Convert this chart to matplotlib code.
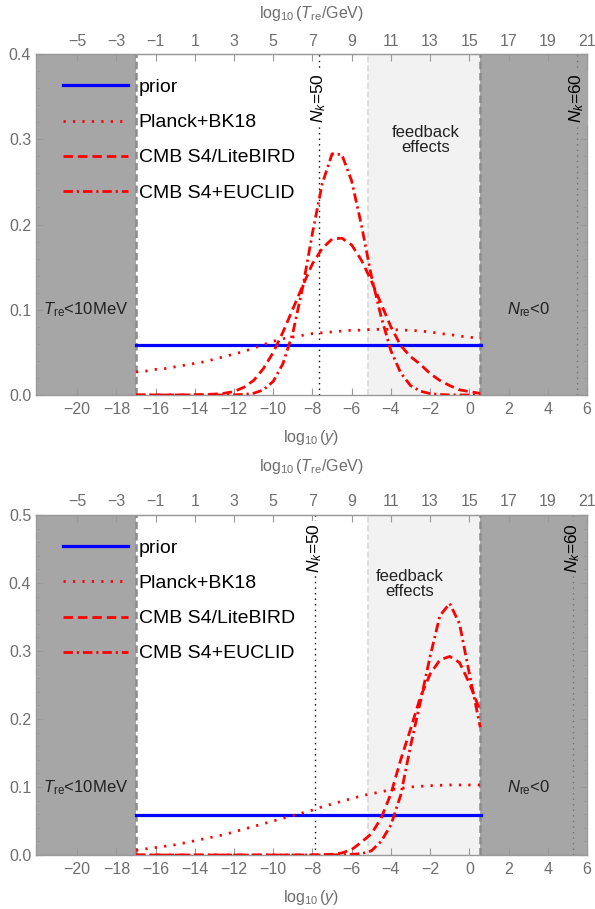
import numpy as np
import matplotlib
matplotlib.use("Agg")
from matplotlib import pyplot as plt
from matplotlib.ticker import MultipleLocator, FormatStrFormatter

plt.rcParams['font.family'] = ['Liberation Sans', 'DejaVu Sans']
plt.rcParams['mathtext.fontset'] = 'custom'
plt.rcParams['mathtext.rm'] = 'Liberation Sans'
plt.rcParams['mathtext.it'] = 'Liberation Sans:italic'

logy = np.append(np.arange(-17, 0.5001, 0.5), 0.56)

prior_val = 0.0588
prior_edges = [-17, 0.6]

# upper panel
planck_top = [0.027, 0.028, 0.030, 0.031, 0.033, 0.035, 0.037, 0.039, 0.042, 0.045,
              0.048, 0.051, 0.055, 0.059, 0.063, 0.066, 0.068, 0.070, 0.072, 0.073,
              0.074, 0.075, 0.076, 0.076, 0.077, 0.077, 0.077, 0.076, 0.076, 0.075,
              0.074, 0.072, 0.071, 0.069, 0.068, 0.066, 0.066]
s4lb_top = [0, 0, 0, 0, 0, 0, 0.0002, 0.0005, 0.001, 0.002,
            0.004, 0.009, 0.017, 0.031, 0.050, 0.074, 0.101, 0.128, 0.154, 0.172,
            0.183, 0.184, 0.176, 0.158, 0.134, 0.107, 0.080, 0.058, 0.045, 0.036,
            0.025, 0.017, 0.011, 0.006, 0.004, 0.002, 0.002]
euclid_top = [0, 0, 0, 0, 0, 0, 0, 0, 0, 0,
              0.0002, 0.0006, 0.002, 0.006, 0.016, 0.037, 0.073, 0.126, 0.190, 0.248,
              0.283, 0.282, 0.251, 0.199, 0.140, 0.092, 0.052, 0.026, 0.011, 0.0045,
              0.0016, 0.0005, 0.0001, 0, 0, 0, 0]

# lower panel
planck_bot = [0.007, 0.009, 0.011, 0.013, 0.015, 0.018, 0.021, 0.024, 0.027, 0.030,
              0.034, 0.038, 0.042, 0.046, 0.050, 0.054, 0.058, 0.062, 0.066, 0.071,
              0.075, 0.079, 0.083, 0.087, 0.090, 0.093, 0.096, 0.098, 0.100, 0.101,
              0.102, 0.1025, 0.103, 0.103, 0.103, 0.103, 0.103]
s4lb_bot = [0, 0, 0, 0, 0, 0, 0, 0, 0, 0,
            0, 0, 0, 0, 0, 0, 0, 0, 0.0002, 0.0005,
            0.001, 0.003, 0.008, 0.019, 0.031, 0.054, 0.090, 0.140, 0.185, 0.232,
            0.266, 0.287, 0.292, 0.283, 0.253, 0.216, 0.212]
euclid_bot = [0, 0, 0, 0, 0, 0, 0, 0, 0, 0,
              0, 0, 0, 0, 0, 0, 0, 0, 0, 0,
              0.0002, 0.0005, 0.001, 0.002, 0.006, 0.020, 0.044, 0.088, 0.160, 0.225,
              0.292, 0.352, 0.370, 0.340, 0.267, 0.196, 0.188]

labels = ['prior', 'Planck+BK18', 'CMB S4/LiteBIRD', 'CMB S4+EUCLID']

x_min, x_max = -22.1, 6
bbn_edge = -17        # T_re < 10 MeV
nre_edge = 0.56       # N_re < 0
feedback_edge = -5.15
nk50 = [-7.66, -7.88]
nk60 = [5.49, 5.27]
ymax = [0.4, 0.5]

DARK = '#a6a6a6'
LIGHT = '#f2f2f2'
TICKC = '#6e6e6e'
FRAMEC = '#999999'

fig = plt.figure(figsize=(5.95, 9.09), dpi=100)
ax_top = fig.add_axes([0.0605, 0.5655, 0.926, 0.375])
ax_bot = fig.add_axes([0.0605, 0.0594, 0.926, 0.374])

panels = [(ax_top, planck_top, s4lb_top, euclid_top),
          (ax_bot, planck_bot, s4lb_bot, euclid_bot)]
title_pad = [11, 17]

for i, (ax, planck, s4lb, euclid) in enumerate(panels):
    ax.axvspan(x_min, bbn_edge, color=DARK, lw=0, zorder=0)
    ax.axvspan(nre_edge, x_max, color=DARK, lw=0, zorder=0)
    ax.axvspan(feedback_edge, nre_edge, color=LIGHT, lw=0, zorder=0)
    ax.axvline(bbn_edge, color='#8c8c8c', lw=1.8, ls=(0, (3, 1.5)), zorder=1)
    ax.axvline(nre_edge, color='#8c8c8c', lw=1.8, ls=(0, (3, 1.5)), zorder=1)
    ax.axvline(feedback_edge, color='#dddddd', lw=1.4, ls=(0, (3, 1.5)), zorder=1)

    ax.axvline(nk50[i], color='black', lw=1.0, ls=(0, (1, 3)), zorder=2)
    ax.axvline(nk60[i], color='#707070', lw=1.0, ls=(0, (1, 3)), zorder=2)

    # zero level of the densities outside the allowed window
    ax.plot([x_min, bbn_edge], [0, 0], color='#7a5aa8', lw=0.8, zorder=3)
    ax.plot([nre_edge, x_max], [0, 0], color='#7a5aa8', lw=0.8, zorder=3)

    ax.plot(prior_edges, [prior_val, prior_val], color='#0000ff', lw=2.3,
            label=labels[0], zorder=4)
    ax.plot(logy, planck, color='#ff0000', lw=2.0, ls=(0, (0.8, 2.6)),
            label=labels[1], zorder=4)
    ax.plot(logy, s4lb, color='#ff0000', lw=2.0, ls=(0, (3.4, 1.8)),
            label=labels[2], zorder=4)
    ax.plot(logy, euclid, color='#ff0000', lw=2.0, ls=(0, (3.4, 1.4, 0.8, 1.4)),
            label=labels[3], zorder=4)

    ax.set_xlim(x_min, x_max)
    ax.set_ylim(0, ymax[i])
    ax.set_xticks(np.arange(-20, 7, 2))
    ax.yaxis.set_major_locator(MultipleLocator(0.1))
    ax.yaxis.set_minor_locator(MultipleLocator(0.02))
    ax.yaxis.set_major_formatter(FormatStrFormatter('%.1f'))
    ax.tick_params(which='both', direction='in', colors=FRAMEC, labelcolor=TICKC,
                   labelsize=11.5, right=True, top=False)
    ax.tick_params(which='major', length=5, width=0.8)
    ax.tick_params(which='minor', length=3, width=0.6)
    ax.tick_params(axis='x', pad=5)
    for s in ax.spines.values():
        s.set_color(FRAMEC)
        s.set_linewidth(1.0)
    ax.set_xlabel(r'$\log_{10}(y)$', color=TICKC, fontsize=11.5, labelpad=8)

    sec = ax.secondary_xaxis('top', functions=(lambda v: v + 15, lambda t: t - 15))
    sec.set_xticks(np.arange(-5, 22, 2))
    sec.tick_params(direction='in', colors=FRAMEC, labelcolor=TICKC, labelsize=11.5,
                    length=5, width=0.8, pad=4)
    sec.spines['top'].set_color(FRAMEC)
    sec.set_xlabel(r'$\log_{10}(T_{\mathrm{re}}/\mathrm{GeV})$', color=TICKC,
                   fontsize=11.5, labelpad=title_pad[i])

    yt = ymax[i]
    ax.text(-19.55, 0.1 * (1 if i == 0 else 0.985), r'$T_{\mathrm{re}}$<10MeV',
            fontsize=12, color='#222222', ha='center', va='center', zorder=6)
    ax.text(3.0, 0.1 * (1 if i == 0 else 0.985), r'$N_{\mathrm{re}}$<0',
            fontsize=12, color='#222222', ha='center', va='center', zorder=6)
    fb = [(-2.23, 0.299), (-3.04, 0.399)][i]
    ax.text(fb[0], fb[1], 'feedback\neffects', fontsize=12, color='#222222',
            ha='center', va='center', linespacing=1.0, zorder=6)
    ynk = yt * (0.87 if i == 0 else 0.902)
    ax.text(nk50[i], ynk, r'$N_k$=50', rotation=90, fontsize=12.5, color='black',
            ha='center', va='center', zorder=6,
            bbox=dict(facecolor='white', edgecolor='none', pad=1.5))
    ax.text(nk60[i], ynk, r'$N_k$=60', rotation=90, fontsize=12.5, color='black',
            ha='center', va='center', zorder=6,
            bbox=dict(facecolor=DARK, edgecolor='none', pad=1.5))

    leg = ax.legend(loc='upper left', bbox_to_anchor=(0.049, 0.928), frameon=False,
                    fontsize=14, handlelength=3.35, handletextpad=0.55,
                    labelspacing=0.9, borderpad=0, borderaxespad=0)
    leg.set_zorder(7)

fig.savefig('out.png', dpi=100)
